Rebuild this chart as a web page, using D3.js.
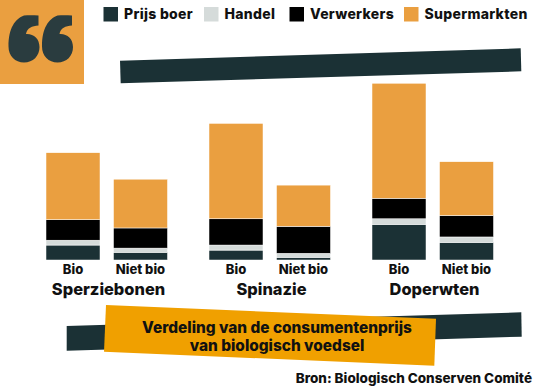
<!DOCTYPE html>
<html>
<head>
<meta charset="utf-8">
<script src="https://cdn.jsdelivr.net/npm/d3@7"></script>
<style>
    html, body { margin: 0; padding: 0; background: #fff; }
    text { font-family: Inter, "Liberation Sans", sans-serif; fill: #111; }
</style>
</head>
<body>
<div id="chart"></div>
<script>
// values, share of the highest bar (no axis in the original)
const products = ["Sperziebonen", "Spinazie", "Doperwten"];
const kinds = ["Bio", "Niet bio"];
const series = ["Prijs boer", "Handel", "Verwerkers", "Supermarkten"];
const colors = ["#1b3135", "#d5dbda", "#000000", "#ea9f40"];

const prijsBoer = [8.3, 4.3, 5.5, 1.5, 19.8, 9.8];
const handel = [2.7, 2.3, 2.8, 2.2, 3.1, 3.0];
const verwerkers = [11.4, 11.2, 14.6, 15.0, 11.4, 11.9];
const supermarkten = [37.2, 27.1, 53.0, 22.9, 63.9, 29.9];

const title = ["Verdeling van de consumentenprijs", "van biologisch voedsel"];
const source = "Bron: Biologisch Conserven Comité";

const rows = [];
products.forEach((p, i) => kinds.forEach((k, j) => {
    const n = i * 2 + j;
    rows.push({
        product: p, kind: k,
        "Prijs boer": prijsBoer[n], "Handel": handel[n],
        "Verwerkers": verwerkers[n], "Supermarkten": supermarkten[n]
    });
}));

const svg = d3.select("#chart").append("svg")
    .attr("width", 540)
    .attr("height", 391)
    .style("display", "block");

const color = d3.scaleOrdinal().domain(series).range(colors);

const x0 = d3.scaleBand().domain(products).range([46, 535]);
const x1 = d3.scaleBand().domain(kinds).range([0, 121.5]).paddingInner(0.2);
const y = d3.scaleLinear().domain([0, 100]).range([260, 80]);

const line = d3.line();

// quote block
svg.append("rect").attr("width", 84).attr("height", 84).attr("fill", "#ea9f40");
const quote = "M24 15.5 C15 19 8.5 28 8.5 46.5 C8.5 56 15 62.5 24 62.5 C33 62.5 39.5 56 39.5 47 C39.5 38.5 33.5 33.5 26 34 C27 28 32 26 38.5 25.5 L38.5 15.5 C33 15 28 15 24 15.5 Z";
svg.selectAll("path.quote")
    .data([0, 33.5])
    .enter().append("path")
    .attr("class", "quote")
    .attr("d", quote)
    .attr("transform", d => "translate(" + d + ",0)")
    .attr("fill", "#2a3c3f");

// slanted bands
svg.append("path")
    .attr("d", line([[120, 60.7], [520.7, 48.3], [521.3, 71.3], [120.7, 83.3]]) + "Z")
    .attr("fill", "#1b3135");
svg.append("path")
    .attr("d", line([[66.7, 326], [521.3, 312.3], [521.7, 336.7], [66.7, 350.7]]) + "Z")
    .attr("fill", "#1b3135");
svg.append("path")
    .attr("d", line([[106, 305], [436, 318.7], [434.3, 365.7], [104, 351.7]]) + "Z")
    .attr("fill", "#f0a000");

// legend
const legendX = [103.5, 204, 289.5, 404];
const legend = svg.selectAll("g.legend")
    .data(series)
    .enter().append("g")
    .attr("class", "legend")
    .attr("transform", (d, i) => "translate(" + legendX[i] + ",7)");
legend.append("rect")
    .attr("width", 14.5)
    .attr("height", 14.5)
    .attr("fill", d => color(d));
legend.append("text")
    .attr("x", 20.5)
    .attr("y", 12)
    .attr("font-size", 14)
    .attr("font-weight", 800)
    .attr("letter-spacing", 0.3)
    .text(d => d);

// bars
const stack = d3.stack().keys(series)(rows);
const bars = svg.append("g");
bars.selectAll("g")
    .data(stack)
    .enter().append("g")
    .attr("fill", d => color(d.key))
    .selectAll("rect")
    .data(d => d)
    .enter().append("rect")
    .attr("x", d => x0(d.data.product) + x1(d.data.kind))
    .attr("y", d => y(d[1]))
    .attr("width", x1.bandwidth())
    .attr("height", d => y(d[0]) - y(d[1]))
    .attr("stroke", "#fff")
    .attr("stroke-width", 0.5);

// bar labels
svg.selectAll("text.kind")
    .data(rows)
    .enter().append("text")
    .attr("class", "kind")
    .attr("x", d => x0(d.product) + x1(d.kind) + x1.bandwidth() / 2)
    .attr("y", 273.5)
    .attr("text-anchor", "middle")
    .attr("font-size", 13)
    .attr("font-weight", 800)
    .text(d => d.kind);

svg.selectAll("text.product")
    .data(products)
    .enter().append("text")
    .attr("class", "product")
    .attr("x", d => x0(d) + x1.step() - 5)
    .attr("y", 295)
    .attr("text-anchor", "middle")
    .attr("font-size", 16.4)
    .attr("font-weight", 800)
    .text(d => d);

// title and source
svg.selectAll("text.title")
    .data(title)
    .enter().append("text")
    .attr("class", "title")
    .attr("x", 277)
    .attr("y", (d, i) => 333 + i * 17.5)
    .attr("text-anchor", "middle")
    .attr("font-size", 15.4)
    .attr("font-weight", 800)
    .text(d => d);

svg.append("text")
    .attr("x", 532)
    .attr("y", 383)
    .attr("text-anchor", "end")
    .attr("font-size", 13.5)
    .attr("font-weight", 800)
    .text(source);
</script>
</body>
</html>
